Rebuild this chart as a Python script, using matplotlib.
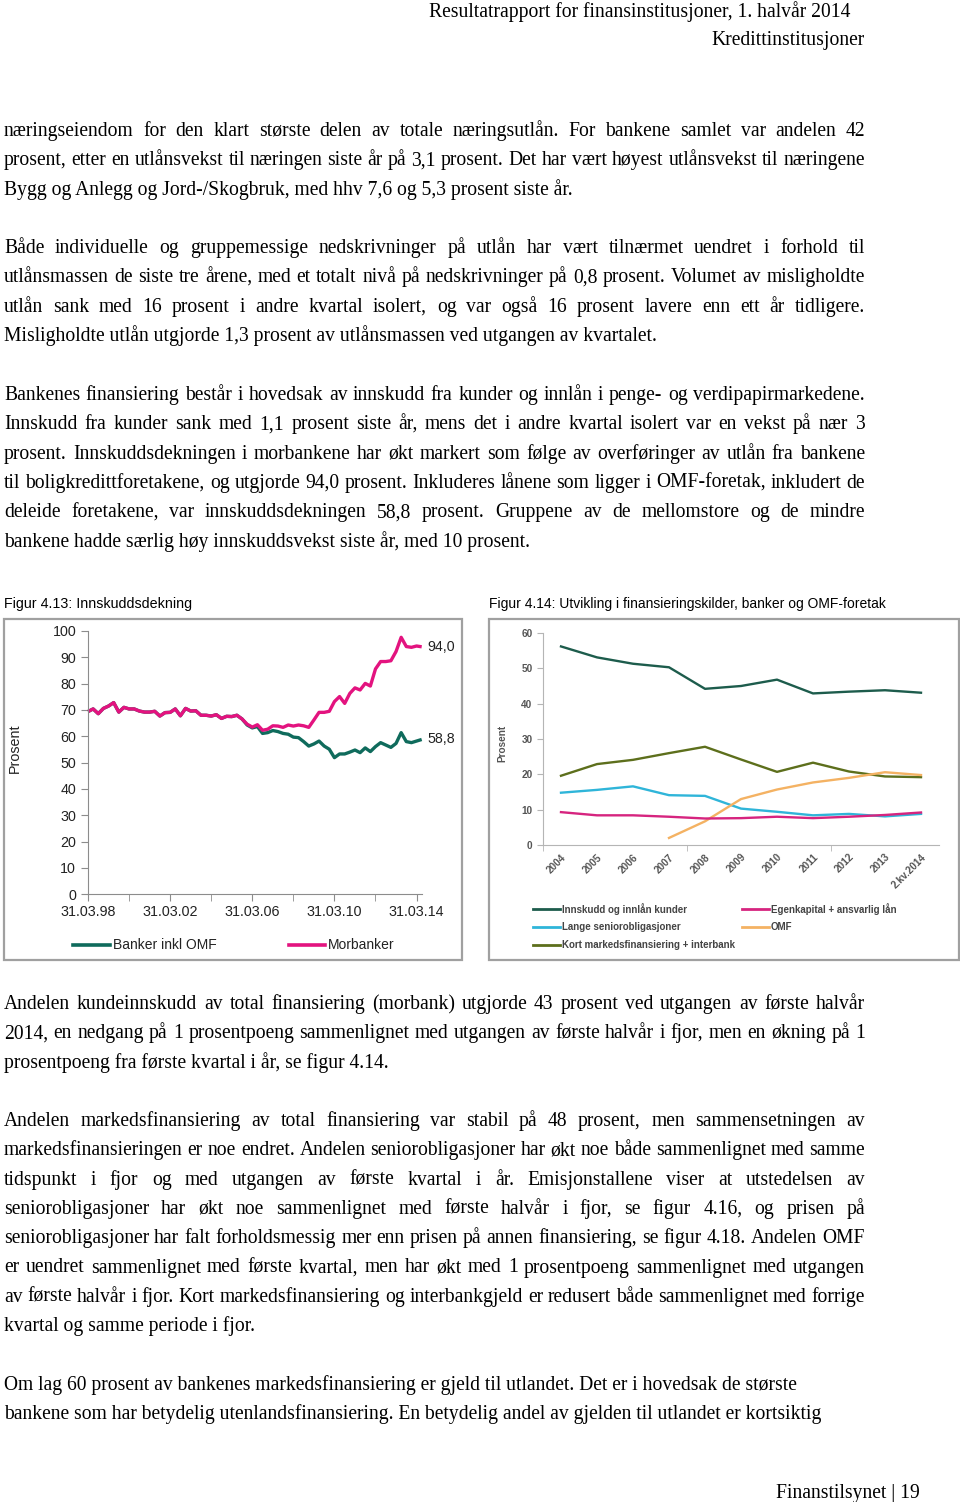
import matplotlib
matplotlib.use('Agg')
import matplotlib.pyplot as plt
from matplotlib.lines import Line2D
from matplotlib.patches import Rectangle
import numpy as np

# Figur 4.13: quarterly, 31.03.98 - 30.06.14
start_year = 1998.0
morbanker = [69.4, 70.4, 68.6, 70.6, 71.5, 72.8, 69.2, 71.0, 70.4, 70.4, 69.6, 69.2,
             69.2, 69.5, 67.7, 69.0, 69.1, 70.4, 67.8, 70.6, 69.6, 69.7, 68.0, 68.0,
             67.7, 68.2, 66.8, 67.6, 67.5, 68.0, 66.6, 64.6, 63.5, 64.4, 62.3, 62.7,
             64.0, 63.9, 63.4, 64.3, 63.9, 64.3, 64.0, 63.4, 66.2, 69.1, 69.1, 69.5,
             73.2, 75.1, 72.5, 76.3, 78.4, 77.6, 80.1, 79.1, 85.6, 88.4, 88.4, 88.7,
             92.2, 97.6, 94.1, 93.8, 94.3, 94.0]
banker_omf = [69.4, 70.4, 68.6, 70.6, 71.5, 72.8, 69.2, 71.0, 70.4, 70.4, 69.6, 69.2,
              69.2, 69.5, 67.7, 69.0, 69.1, 70.4, 67.8, 70.6, 69.6, 69.7, 68.0, 68.0,
              67.7, 68.2, 66.8, 67.6, 67.5, 68.0, 66.6, 64.3, 63.2, 63.7, 61.1, 61.4,
              62.2, 61.8, 61.1, 60.8, 59.7, 59.5, 58.0, 56.3, 57.1, 58.2, 56.3, 55.1,
              51.9, 53.3, 53.3, 54.0, 54.8, 53.8, 55.6, 54.2, 56.1, 57.6, 56.7, 55.8,
              57.3, 61.4, 58.0, 57.6, 58.2, 58.8]
fig1_ticklabels = ['31.03.98', '31.03.02', '31.03.06', '31.03.10', '31.03.14']
fig1_ticks = [1998, 2002, 2006, 2010, 2014]

# Figur 4.14: annual
years = ['2004', '2005', '2006', '2007', '2008', '2009', '2010', '2011', '2012', '2013', '2.kv.2014']
innskudd = [56.2, 53.1, 51.3, 50.3, 44.2, 45.0, 46.8, 42.9, 43.4, 43.8, 43.1]
egenkapital = [9.3, 8.4, 8.4, 8.0, 7.5, 7.6, 8.0, 7.6, 8.0, 8.5, 9.2]
lange_senior = [14.8, 15.6, 16.6, 14.1, 13.9, 10.3, 9.4, 8.4, 8.8, 8.1, 8.8]
omf = [None, None, None, 2.0, 6.7, 13.0, 15.7, 17.7, 19.0, 20.6, 19.8]
kort_marked = [19.6, 22.9, 24.1, 26.0, 27.8, 24.2, 20.7, 23.3, 20.8, 19.4, 19.2]

header = ['Resultatrapport for finansinstitusjoner, 1. halvår 2014', 'Kredittinstitusjoner']

para1 = ['næringseiendom for den klart største delen av totale næringsutlån. For bankene samlet var andelen 42',
         'prosent, etter en utlånsvekst til næringen siste år på 3,1 prosent. Det har vært høyest utlånsvekst til næringene',
         'Bygg og Anlegg og Jord-/Skogbruk, med hhv 7,6 og 5,3 prosent siste år.']
para2 = ['Både individuelle og gruppemessige nedskrivninger på utlån har vært tilnærmet uendret i forhold til',
         'utlånsmassen de siste tre årene, med et totalt nivå på nedskrivninger på 0,8 prosent. Volumet av misligholdte',
         'utlån sank med 16 prosent i andre kvartal isolert, og var også 16 prosent lavere enn ett år tidligere.',
         'Misligholdte utlån utgjorde 1,3 prosent av utlånsmassen ved utgangen av kvartalet.']
para3 = ['Bankenes finansiering består i hovedsak av innskudd fra kunder og innlån i penge- og verdipapirmarkedene.',
         'Innskudd fra kunder sank med 1,1 prosent siste år, mens det i andre kvartal isolert var en vekst på nær 3',
         'prosent. Innskuddsdekningen i morbankene har økt markert som følge av overføringer av utlån fra bankene',
         'til boligkredittforetakene, og utgjorde 94,0 prosent. Inkluderes lånene som ligger i OMF-foretak, inkludert de',
         'deleide foretakene, var innskuddsdekningen 58,8 prosent. Gruppene av de mellomstore og de mindre',
         'bankene hadde særlig høy innskuddsvekst siste år, med 10 prosent.']
para4 = ['Andelen kundeinnskudd av total finansiering (morbank) utgjorde 43 prosent ved utgangen av første halvår',
         '2014, en nedgang på 1 prosentpoeng sammenlignet med utgangen av første halvår i fjor, men en økning på 1',
         'prosentpoeng fra første kvartal i år, se figur 4.14.']
para5 = ['Andelen markedsfinansiering av total finansiering var stabil på 48 prosent, men sammensetningen av',
         'markedsfinansieringen er noe endret. Andelen seniorobligasjoner har økt noe både sammenlignet med samme',
         'tidspunkt i fjor og med utgangen av første kvartal i år. Emisjonstallene viser at utstedelsen av',
         'seniorobligasjoner har økt noe sammenlignet med første halvår i fjor, se figur 4.16, og prisen på',
         'seniorobligasjoner har falt forholdsmessig mer enn prisen på annen finansiering, se figur 4.18. Andelen OMF',
         'er uendret sammenlignet med første kvartal, men har økt med 1 prosentpoeng sammenlignet med utgangen',
         'av første halvår i fjor. Kort markedsfinansiering og interbankgjeld er redusert både sammenlignet med forrige',
         'kvartal og samme periode i fjor.']
para6 = ['Om lag 60 prosent av bankenes markedsfinansiering er gjeld til utlandet. Det er i hovedsak de største',
         'bankene som har betydelig utenlandsfinansiering. En betydelig andel av gjelden til utlandet er kortsiktig']

W, H = 960, 1502
fig = plt.figure(figsize=(W / 100, H / 100), dpi=100)
page = fig.add_axes([0, 0, 1, 1])
page.set_xlim(0, W)
page.set_ylim(H, 0)
page.axis('off')
renderer = fig.canvas.get_renderer()

body = dict(family='Liberation Serif', fontsize=14.1, color='black', va='baseline')
sans = ['Liberation Sans', 'DejaVu Sans']
BASE = 7  # baseline offset below line centre


def text_width(s, **kw):
    t = page.text(0, 0, s, **kw)
    w = t.get_window_extent(renderer).width
    t.remove()
    return w


def draw_para(lines, y0, justify_last=False, x0=4, x1=865, step=29.3):
    for i, line in enumerate(lines):
        y = y0 + i * step + BASE
        last = i == len(lines) - 1
        words = line.split(' ')
        if (last and not justify_last) or len(words) == 1:
            page.text(x0, y, line, **body)
            continue
        widths = [text_width(w, **body) for w in words]
        gap = (x1 - x0 - sum(widths)) / (len(words) - 1)
        x = x0
        for w, wd in zip(words, widths):
            page.text(x, y, w, **body)
            x += wd + gap


page.text(850, 10 + BASE, header[0], ha='right', **body)
page.text(865, 38 + BASE, header[1], ha='right', **body)
draw_para(para1, 129)
draw_para(para2, 246)
draw_para(para3, 393)
draw_para(para4, 1002)
draw_para(para5, 1119)
for i, line in enumerate(para6):
    page.text(4, 1383 + i * 29.3 + BASE, line, **body)
page.text(920, 1491 + BASE, 'Finanstilsynet | 19', ha='right', **body)

# captions and frames
page.text(4, 604, 'Figur 4.13: Innskuddsdekning', family=sans, fontsize=10.3, va='center')
page.text(489, 604, 'Figur 4.14: Utvikling i finansieringskilder, banker og OMF-foretak',
          family=sans, fontsize=10.0, va='center')
page.add_patch(Rectangle((4, 619), 458, 341, fill=False, ec='#a0a0a0', lw=1.6))
page.add_patch(Rectangle((489, 619), 470, 341, fill=False, ec='#a0a0a0', lw=1.6))

# ---- Figur 4.13 ----
teal1 = '#0f6b5c'
pink1 = '#e3137f'
ax1 = fig.add_axes([88 / W, 1 - 894.3 / H, (421.7 - 88) / W, 263.3 / H])
xq = start_year + 0.25 * np.arange(len(morbanker))
ax1.plot(xq, banker_omf, color=teal1, lw=2.4, clip_on=False, solid_capstyle='butt')
ax1.plot(xq, morbanker, color=pink1, lw=2.4, clip_on=False, solid_capstyle='butt')
ax1.set_xlim(start_year, xq[-1])
ax1.set_ylim(0, 100)
ax1.set_yticks(range(0, 101, 10))
ax1.set_xticks(fig1_ticks)
ax1.set_xticklabels(fig1_ticklabels)
ax1.set_xticks([2000, 2004, 2008, 2012], minor=True)
for s in ['top', 'right']:
    ax1.spines[s].set_visible(False)
for s in ['left', 'bottom']:
    ax1.spines[s].set_color('#8c8c8c')
ax1.tick_params(which='both', color='#8c8c8c', length=5, labelsize=10.3, labelcolor='#222222')
ax1.tick_params(axis='x', pad=3)
ax1.patch.set_alpha(0)
ax1.set_ylabel('Prosent', fontsize=10.3, family=sans, color='#222222')
ax1.yaxis.set_label_coords(-0.198, 0.556)
for lab in ax1.get_xticklabels() + ax1.get_yticklabels():
    lab.set_family(sans)
ax1.annotate(f'{morbanker[-1]:.1f}'.replace('.', ','), (xq[-1], morbanker[-1]), xytext=(4, 0),
             textcoords='offset points', va='center', fontsize=10.3, family=sans, color='#222222')
ax1.annotate(f'{banker_omf[-1]:.1f}'.replace('.', ','), (xq[-1], banker_omf[-1]), xytext=(4, 0),
             textcoords='offset points', va='center', fontsize=10.3, family=sans, color='#222222')

for (x0, x1, xt), col, lab in [((73, 110, 113), teal1, 'Banker inkl OMF'),
                               ((289, 325, 328), pink1, 'Morbanker')]:
    page.add_line(Line2D([x0, x1], [945, 945], color=col, lw=2.6))
    page.text(xt, 945, lab, family=sans, fontsize=10.0, va='center', color='#222222')

# ---- Figur 4.14 ----
c_innskudd = '#1d5c4c'
c_egen = '#d6247f'
c_lange = '#2fb5d9'
c_omf = '#f4b263'
c_kort = '#5d6f1c'
ax2 = fig.add_axes([543 / W, 1 - 845 / H, (939 - 543) / W, 212 / H])
xi = np.arange(len(years))
omf_arr = np.array([np.nan if v is None else v for v in omf])
series = [(innskudd, c_innskudd, 'Innskudd og innlån kunder'),
          (lange_senior, c_lange, 'Lange seniorobligasjoner'),
          (kort_marked, c_kort, 'Kort markedsfinansiering + interbank'),
          (omf_arr, c_omf, 'OMF'),
          (egenkapital, c_egen, 'Egenkapital + ansvarlig lån')]
for vals, col, lab in series:
    ax2.plot(xi, vals, color=col, lw=1.7, clip_on=False)
ax2.set_xlim(-0.5, len(years) - 0.5)
ax2.set_ylim(0, 60)
ax2.set_yticks(range(0, 61, 10))
ax2.set_xticks(xi)
ax2.set_xticklabels(years, rotation=45, ha='right', rotation_mode='anchor')
ax2.set_xticks([-0.5, 3.5, 7.5], minor=True)
for s in ['top', 'right']:
    ax2.spines[s].set_visible(False)
for s in ['left', 'bottom']:
    ax2.spines[s].set_color('#b5b5b5')
ax2.tick_params(axis='y', color='#b5b5b5', length=4, labelsize=7.2, labelcolor='#555555')
ax2.tick_params(axis='x', which='major', length=0, labelsize=7.2, labelcolor='#555555', pad=5)
ax2.tick_params(axis='x', which='minor', color='#b5b5b5', length=4)
for lab in ax2.get_xticklabels() + ax2.get_yticklabels():
    lab.set_family(sans)
    lab.set_fontweight('bold')
ax2.patch.set_alpha(0)
ax2.set_ylabel('Prosent', fontsize=7.2, family=sans, color='#555555', fontweight='bold')
ax2.yaxis.set_label_coords(-0.091, 0.48)

legend2 = [(series[0], 533, 909), (series[4], 742, 909),
           (series[1], 533, 927), (series[3], 742, 927),
           (series[2], 533, 945)]
for (vals, col, lab), x0, y in legend2:
    page.add_line(Line2D([x0, x0 + 27], [y, y], color=col, lw=2.0))
    page.text(x0 + 29, y, lab, family=sans, fontsize=7.0, va='center', color='#444444',
              fontweight='bold')

fig.savefig('out.png', dpi=100)
